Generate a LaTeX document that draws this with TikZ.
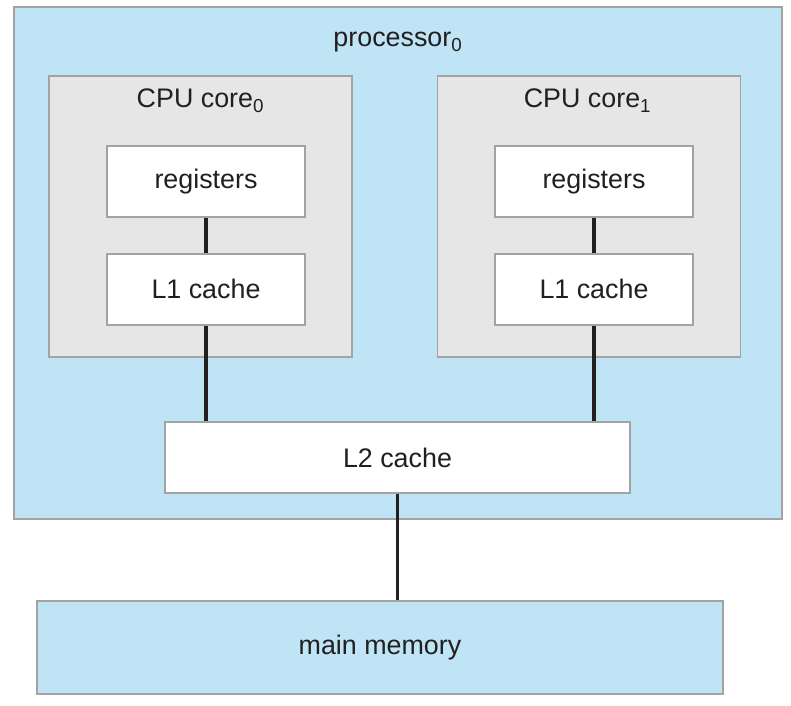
\documentclass[tikz,border=0pt]{standalone}
\usepackage{fontspec}
\setmainfont{Liberation Sans}
\usepackage{tikz}
\definecolor{procblue}{RGB}{191,228,246}
\definecolor{coregray}{RGB}{230,230,230}
\definecolor{boxgray}{RGB}{163,163,163}
\definecolor{inkdark}{RGB}{35,31,32}
\tikzstyle{chip} = [rectangle, draw=boxgray, line width=1.4pt, fill=procblue,
    minimum width=19.2cm, minimum height=12.8cm]
\tikzstyle{core} = [rectangle, draw=boxgray, line width=1.4pt, fill=coregray,
    minimum width=7.575cm, minimum height=7.025cm]
\tikzstyle{block} = [rectangle, draw=boxgray, line width=1.4pt, fill=white,
    text=inkdark, minimum width=4.95cm, minimum height=1.775cm]
\tikzstyle{bigcache} = [block, minimum width=11.625cm]
\tikzstyle{memory} = [rectangle, draw=boxgray, line width=1.4pt, fill=procblue,
    text=inkdark, minimum width=17.15cm, minimum height=2.325cm]
\tikzstyle{title} = [text=inkdark, anchor=base, inner sep=0pt]
\tikzstyle{line} = [draw=inkdark, line width=2.3pt]

\begin{document}
\begin{tikzpicture}[node distance = 2cm, font=\fontsize{19.1}{23}\selectfont]
            \useasboundingbox [fill=white] (0,0) rectangle (19.775,-17.65);
            % Place nodes
            \node [chip] (proc) at (9.95,-6.575) {};
            \node [title] (proclab) at (9.95,-1.175) {processor\textsubscript{0}};
            \node [core] (core0) at (5.0125,-5.4125) {};
            \node [core] (core1) at (14.725,-5.4125) {};
            \node [title] (corelab0) at (5.0125,-2.7) {CPU core\textsubscript{0}};
            \node [title] (corelab1) at (14.69,-2.7) {CPU core\textsubscript{1}};

            \node [block] (reg0) at (5.15,-4.5375) {registers};
            \node [block, below of=reg0, node distance=2.69cm] (lone0) {L1 cache};
            \node [block, right of=reg0, node distance=9.7cm] (reg1) {registers};
            \node [block, below of=reg1, node distance=2.69cm] (lone1) {L1 cache};

            \node [bigcache] (ltwo) at (9.9375,-11.4375) {L2 cache};
            \node [memory, below of=ltwo, node distance=4.75cm, xshift=-0.4375cm] (mem) {main memory};

            % Draw edges
            \path [line] (reg0) -- (lone0);
            \path [line] (reg1) -- (lone1);
            \path [line] (lone0) -- (lone0 |- ltwo.north);
            \path [line] (lone1) -- (lone1 |- ltwo.north);
            \path [line] (ltwo.south) -- (ltwo.south |- mem.north);

        \end{tikzpicture}
\end{document}
